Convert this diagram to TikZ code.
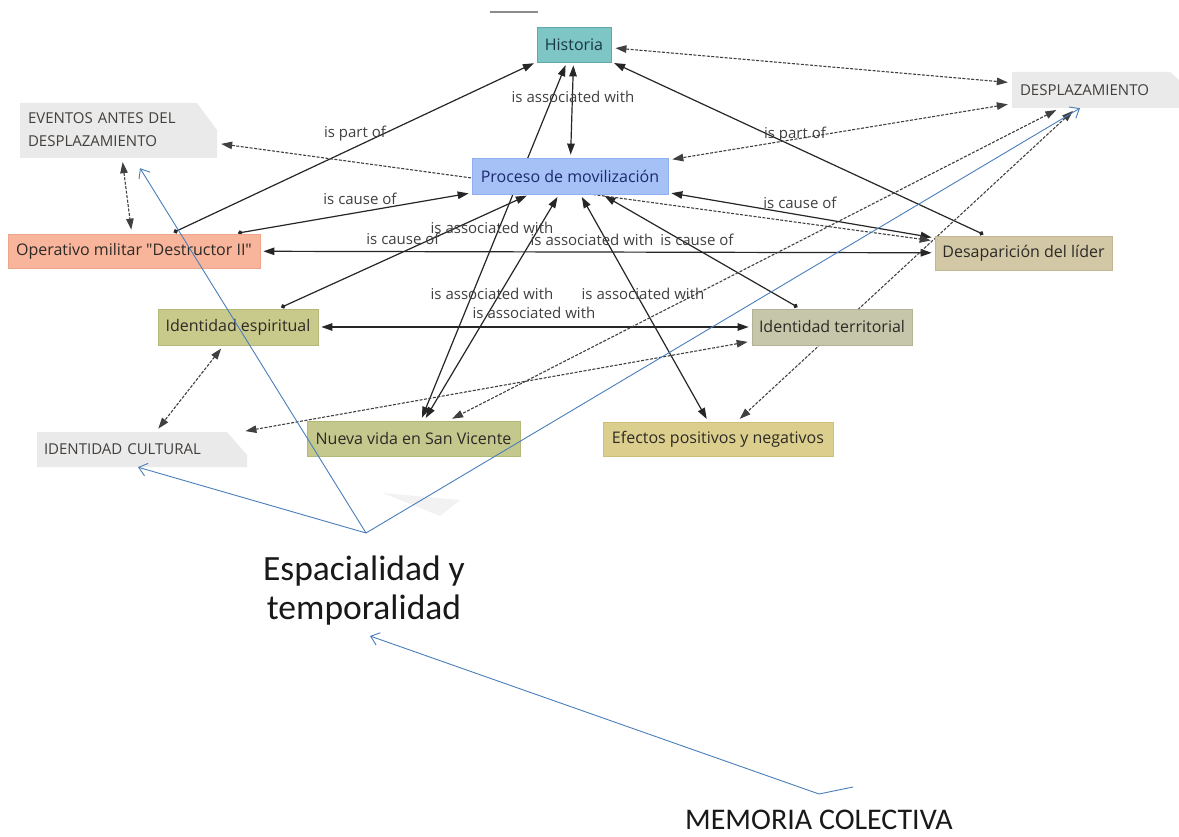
\documentclass[tikz,border=0pt]{standalone}
\usepackage{fontspec}
\setmainfont{Open Sans}[Ligatures=TeXOff]
\newfontfamily\calibfont{Carlito}
\usetikzlibrary{arrows.meta,calc,backgrounds}
\definecolor{histfill}{RGB}{126,197,197}
\definecolor{histdraw}{RGB}{95,169,171}
\definecolor{histtext}{RGB}{25,55,70}
\definecolor{procfill}{RGB}{166,193,246}
\definecolor{procdraw}{RGB}{143,176,238}
\definecolor{proctext}{RGB}{28,42,110}
\definecolor{operfill}{RGB}{248,181,156}
\definecolor{operdraw}{RGB}{238,165,138}
\definecolor{desapfill}{RGB}{211,200,166}
\definecolor{desapdraw}{RGB}{194,181,145}
\definecolor{espfill}{RGB}{200,202,140}
\definecolor{espdraw}{RGB}{180,184,120}
\definecolor{terrfill}{RGB}{198,199,170}
\definecolor{terrdraw}{RGB}{177,179,148}
\definecolor{nvfill}{RGB}{196,200,140}
\definecolor{nvdraw}{RGB}{178,184,120}
\definecolor{efefill}{RGB}{220,207,142}
\definecolor{efedraw}{RGB}{205,191,120}
\definecolor{tabfill}{RGB}{234,234,234}
\definecolor{bluel}{RGB}{74,126,187}
\definecolor{txt}{RGB}{45,42,38}
\begin{document}
\begin{tikzpicture}[x=1pt,y=-1pt,
  Tri/.tip={Triangle[length=11pt,width=7.5pt]},
  Dot/.tip={Circle[length=4.5pt]},
  box/.style={rectangle, inner sep=0pt, line width=0.8pt, text=txt, font=\fontsize{16}{19}\selectfont},
  tabnode/.style={rectangle, inner sep=0pt, text=txt!90, align=left, font=\fontsize{15}{23}\selectfont},
  lbl/.style={inner sep=0pt, text=black!75, font=\fontsize{15}{18}\selectfont},
  con/.style={draw=black!85, line width=1.2pt, shorten <=3pt, shorten >=3pt},
  xcon/.style={draw=black!75, line width=1.1pt, dash pattern=on 3pt off 1.5pt, shorten <=4pt, shorten >=4pt},
  blu/.style={draw=bluel, line width=0.9pt, -{Straight Barb[length=8pt,width=13pt]}},
  big/.style={inner sep=0pt, align=center, text=black!90, font=\calibfont\fontsize{35.5}{39}\selectfont}
]
\useasboundingbox (0,0) rectangle (1179,837);

% concept nodes
\node[box, fill=histfill, draw=histdraw, minimum width=74pt, minimum height=35pt, text=histtext] (hist) at (574,44.5) {Historia};
\node[box, fill=procfill, draw=procdraw, minimum width=196pt, minimum height=36pt, text=proctext] (proc) at (570,176) {Proceso de movilización};
\node[box, fill=operfill, draw=operdraw, minimum width=252pt, minimum height=34pt] (oper) at (134,251) {Operativo militar "Destructor II"};
\node[box, fill=desapfill, draw=desapdraw, minimum width=177pt, minimum height=34pt] (desap) at (1023.5,253) {Desaparición del líder};
\node[box, fill=espfill, draw=espdraw, minimum width=160pt, minimum height=36pt] (esp) at (238,327) {Identidad espiritual};
\node[box, fill=terrfill, draw=terrdraw, minimum width=160pt, minimum height=36pt] (terr) at (832,327) {Identidad territorial};
\node[box, fill=nvfill, draw=nvdraw, minimum width=213pt, minimum height=35pt] (nv) at (413.5,438.5) {Nueva vida en San Vicente};
\node[box, fill=efefill, draw=efedraw, minimum width=230pt, minimum height=34pt] (efe) at (718,439) {Efectos positivos y negativos};

% grey tab nodes
\node[tabnode, minimum width=197pt, minimum height=56pt, text width=181pt] (evt) at (118.5,130) {EVENTOS ANTES DEL\\DESPLAZAMIENTO};
\node[tabnode, minimum width=167pt, minimum height=36pt, text width=151pt] (desp) at (1095.5,90) {DESPLAZAMIENTO};
\node[tabnode, minimum width=210pt, minimum height=35pt, text width=196pt] (icult) at (142,449.5) {IDENTIDAD CULTURAL};

% large texts
\node[big] (espt) at (364,591) {Espacialidad y\\temporalidad};
\node[big, anchor=base, font=\calibfont\fontsize{30}{33}\selectfont] (mem) at (819,829) {MEMORIA COLECTIVA};

\begin{scope}[on background layer]
  \fill[white] (0,0) rectangle (1179,837);
  \fill[tabfill] (20,103) -- (197,103) -- (217,130) -- (217,158) -- (20,158) -- cycle;
  \fill[tabfill] (1012,72) -- (1170,72) -- (1179,80) -- (1179,108) -- (1012,108) -- cycle;
  \fill[tabfill] (37,432) -- (227,432) -- (247,455) -- (247,467) -- (37,467) -- cycle;
  \fill[black!5] (383,493) -- (460,500) -- (440,516) -- cycle;
  \draw[black!45, line width=1.5pt] (490,12) -- (538,12);
  % linking lines
  \draw[con, Dot-Tri] (oper) -- (hist);
  \draw[con, Dot-Tri] (oper) -- (proc);
  \draw[con, Tri-Tri] (oper) -- (desap);
  \draw[con, Tri-Tri] (hist) -- (proc);
  \draw[con, Dot-Tri] (esp) -- (proc);
  \draw[con, Tri-Tri] (nv) -- (hist);
  \draw[con, Tri-Tri] (nv) -- (proc);
  \draw[con, Tri-Tri] (proc) -- (efe);
  \draw[con, Dot-Tri] (terr) -- (proc);
  \draw[con, Dot-Tri] (desap) -- (hist);
  \draw[con, Tri-Tri] (desap) -- (proc);
  \draw[con, Tri-Tri] (esp) -- (terr);
  % cross links
  \draw[xcon, Tri-Tri] (evt) -- (oper);
  \draw[xcon, Tri-Tri] (evt) -- (desap);
  \draw[xcon, Tri-Tri] (hist) -- (desp);
  \draw[xcon, Tri-Tri] (desp) -- (proc);
  \draw[xcon, Tri-Tri] (desp) -- (nv);
  \draw[xcon, Tri-Tri] (desp) -- (efe);
  \draw[xcon, Tri-Tri] (esp) -- (icult);
  \draw[xcon, Tri-Tri] (terr) -- (icult);
\end{scope}

% link labels
\node[lbl] (l1) at (573,97) {is associated with};
\node[lbl] (l2) at (355,134) {is part of};
\node[lbl] (l3) at (795,135) {is part of};
\node[lbl] (l4) at (360,199) {is cause of};
\node[lbl] (l5) at (492,228) {is associated with};
\node[lbl] (l6) at (403,239) {is cause of};
\node[lbl] (l7) at (592,240) {is associated with};
\node[lbl] (l8) at (697,240) {is cause of};
\node[lbl] (l9) at (800,203) {is cause of};
\node[lbl] (l10) at (492,294) {is associated with};
\node[lbl] (l11) at (643,294) {is associated with};
\node[lbl] (l12) at (534,313) {is associated with};

% blue annotation arrows
\coordinate (ev) at (366,533);
\coordinate (mv) at (819,794);
\coordinate (mt) at (853,787);
\draw[blu] (ev) -- ($(evt.south)+(21.5,10)$);
\draw[blu] (ev) -- ($(icult.south)+(-4,0)$);
\draw[blu] (ev) -- ($(desp.south)+(-15.5,0)$);
\draw[blu] (mt) -- (mv) -- (370,636);
\end{tikzpicture}
\end{document}
